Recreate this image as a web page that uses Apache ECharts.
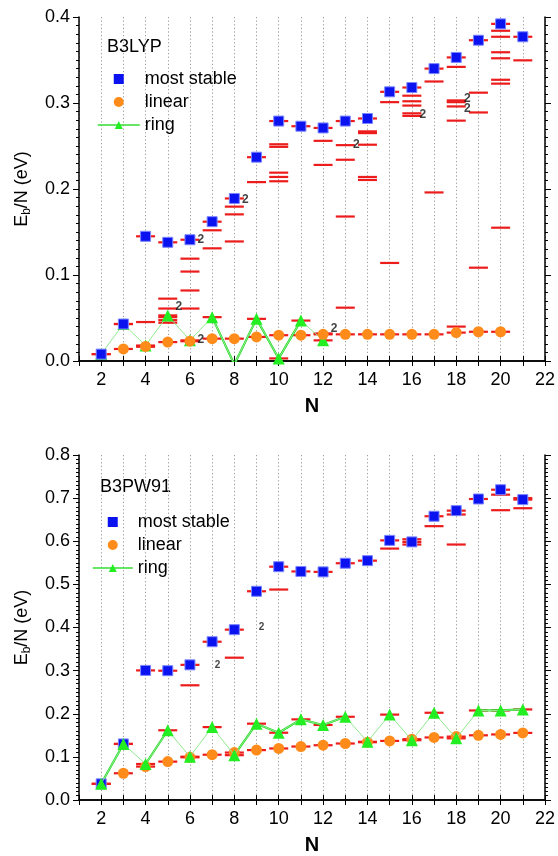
<!DOCTYPE html>
<html><head><meta charset="utf-8">
<script src="https://cdn.jsdelivr.net/npm/echarts@6/dist/echarts.min.js"></script>
<style>html,body{margin:0;padding:0;background:#fff}#c{width:558px;height:856px}</style>
</head><body><div id="c"></div>
<script>
// ---------- B3LYP (top panel) ----------
const b3lypStableN = [2,3,4,5,6,7,8,9,10,11,12,13,14,15,16,17,18,19,20,21];
const b3lypStable  = [0.008,0.043,0.145,0.138,0.141,0.162,0.189,0.237,0.279,0.273,0.271,0.279,0.282,0.313,0.318,0.340,0.353,0.373,0.392,0.377];
const b3lypLinearN = [3,4,5,6,7,8,9,10,11,12,13,14,15,16,17,18,19,20];
const b3lypLinear  = [0.014,0.017,0.022,0.023,0.026,0.026,0.028,0.030,0.030,0.031,0.031,0.031,0.031,0.031,0.031,0.033,0.034,0.034];
const b3lypRingN   = [2,3,4,5,6,7,8,9,10,11,12];
const b3lypRing    = [0.008,0.043,0.018,0.053,0.024,0.051,-0.004,0.049,0.003,0.047,0.024];
const b3lypRingBoldFrom = [7,8,9,10];
const b3lypIsomers = [
  [4,0.0453],[4,0.0167],
  [5,0.0725],[5,0.061],[5,0.051],[5,0.0475],[5,0.0445],
  [6,0.119],[6,0.104],[6,0.082],[6,0.061],
  [7,0.152],[7,0.131],
  [8,0.1795],[8,0.1705],[8,0.139],
  [9,0.208],
  [10,0.252],[10,0.249],[10,0.219],[10,0.214],[10,0.209],
  [12,0.256],[12,0.228],[12,0.032],
  [13,0.251],[13,0.234],[13,0.168],[13,0.062],
  [14,0.267],[14,0.265],[14,0.2515],[14,0.214],[14,0.2105],
  [15,0.301],[15,0.114],
  [16,0.3085],[16,0.302],[16,0.297],[16,0.288],[16,0.285],
  [17,0.325],[17,0.196],
  [18,0.342],[18,0.303],[18,0.301],[18,0.296],[18,0.2795],[18,0.040],
  [19,0.312],[19,0.289],[19,0.1085],
  [20,0.384],[20,0.377],[20,0.359],[20,0.352],[20,0.327],[20,0.3225],[20,0.155],
  [21,0.3496]
];
const b3lypDegenerate = [[5,0.0628],[6,0.1407],[6,0.0244],[8,0.188],[12,0.037],[13,0.251],[16,0.2864],[18,0.305],[18,0.2933]];

// ---------- B3PW91 (bottom panel) ----------
const b3pw91StableN = [2,3,4,5,6,7,8,9,10,11,12,13,14,15,16,17,18,19,20,21];
const b3pw91Stable  = [0.0375,0.13,0.3005,0.2998,0.3134,0.367,0.395,0.484,0.541,0.530,0.529,0.549,0.555,0.602,0.5985,0.658,0.671,0.698,0.7195,0.6966];
const b3pw91LinearN = [3,4,5,6,7,8,9,10,11,12,13,14,15,16,17,18,19,20,21];
const b3pw91Linear  = [0.062,0.0775,0.089,0.099,0.105,0.110,0.1157,0.1195,0.124,0.127,0.131,0.134,0.137,0.141,0.145,0.147,0.150,0.152,0.1556];
const b3pw91RingN   = [2,3,4,5,6,7,8,9,10,11,12,13,14,15,16,17,18,19,20,21];
const b3pw91Ring    = [0.0375,0.13,0.0835,0.1617,0.1004,0.169,0.104,0.177,0.156,0.187,0.174,0.193,0.135,0.198,0.1387,0.2023,0.143,0.2076,0.2076,0.210];
const b3pw91RingBoldFrom = [2,4,8,9,10,11,12,19,20];
const b3pw91Isomers = [
  [6,0.266],[8,0.330],[10,0.488],[15,0.583],[16,0.6046],[16,0.5924],
  [17,0.635],[18,0.662],[18,0.5924],[20,0.708],[20,0.672],[21,0.700],[21,0.6766]
];
const b3pw91Degenerate = [[7.24,0.313],[9.23,0.401]];

const xTicksMin = 1, xTicksMax = 22;
const FONT = 'Arial, "Liberation Sans", sans-serif';

const pairs = (xs, ys) => xs.map((x, i) => [x, ys[i]]);
function boldSegments(xs, ys, from) {
  const res = [];
  for (let i = 0; i < xs.length; i++) {
    const on = from.includes(xs[i]) || from.includes(xs[i] - 1);
    res.push([xs[i], on ? ys[i] : null]);
    if (i < xs.length - 1 && !from.includes(xs[i])) res.push([xs[i] + 0.5, null]);
  }
  return res;
}

const panels = [
  {name:'B3LYP', ymax:0.4, top:17, height:344, stN:b3lypStableN, st:b3lypStable, liN:b3lypLinearN, li:b3lypLinear,
   riN:b3lypRingN, ri:b3lypRing, bold:b3lypRingBoldFrom, iso:b3lypIsomers, deg:b3lypDegenerate, degOff:11, degSize:12,
   ringOnTop:false, legendTop:65, legendLeft:92, itemW:42, titleX:107, titleY:48},
  {name:'B3PW91', ymax:0.8, top:455, height:348, stN:b3pw91StableN, st:b3pw91Stable, liN:b3pw91LinearN, li:b3pw91Linear,
   riN:b3pw91RingN, ri:b3pw91Ring, bold:b3pw91RingBoldFrom, iso:b3pw91Isomers, deg:b3pw91Degenerate, degOff:0, degSize:10,
   ringOnTop:true, legendTop:508, legendLeft:87, itemW:40, titleX:100, titleY:488}
];

const option = {animation:false, backgroundColor:'#fff', textStyle:{fontFamily:FONT},
  grid:[], xAxis:[], yAxis:[], series:[], legend:[], graphic:[]};

const axisLine = {show:true, lineStyle:{color:'#000', width:1.5}};
panels.forEach((p, g) => {
  option.grid.push({left:79, width:469, top:p.top, height:p.height});
  option.xAxis.push({gridIndex:g, type:'value', min:xTicksMin, max:xTicksMax, interval:1,
    axisLine, axisTick:{length:5, lineStyle:{color:'#000'}},
    axisLabel:{fontSize:18, color:'#000', margin:10, fontFamily:FONT, formatter:v => v % 2 === 0 ? String(v) : ''},
    splitLine:{show:true, lineStyle:{type:[1.2,2.4], color:'#9a9a9a', width:1}},
    name:'N', nameLocation:'middle', nameGap:35, nameTextStyle:{fontSize:20, fontWeight:'bold', color:'#000', fontFamily:FONT}});
  option.xAxis.push({gridIndex:g, type:'value', position:'top', min:xTicksMin, max:xTicksMax, interval:1,
    axisLine, axisTick:{length:5, lineStyle:{color:'#000'}}, axisLabel:{show:false}, splitLine:{show:false}});
  option.yAxis.push({gridIndex:g, type:'value', min:0, max:p.ymax, interval:0.1,
    axisLine, axisTick:{length:6, lineStyle:{color:'#000'}},
    minorTick:{show:true, splitNumber:10, length:3, lineStyle:{color:'#000'}},
    axisLabel:{fontSize:18, color:'#000', margin:9, fontFamily:FONT, formatter:v => v.toFixed(1)},
    splitLine:{show:false},
    name:'{e|E}{s|b}{e|/N (eV)}', nameLocation:'middle', nameGap:46, nameRotate:90,
    nameTextStyle:{color:'#000', rich:{e:{fontSize:18, fontFamily:FONT, color:'#000'}, s:{fontSize:12, fontFamily:FONT, color:'#000', padding:[9,0,0,0]}}}});
  option.yAxis.push({gridIndex:g, type:'value', position:'right', min:0, max:p.ymax, interval:0.1,
    axisLine, axisTick:{length:6, lineStyle:{color:'#000'}},
    minorTick:{show:true, splitNumber:10, length:3, lineStyle:{color:'#000'}},
    axisLabel:{show:false}, splitLine:{show:false}});

  const xi = 2*g, yi = 2*g;
  const st = pairs(p.stN, p.st), li = pairs(p.liN, p.li), ri = pairs(p.riN, p.ri);
  const dashes = [].concat(st, li, ri, p.iso);
  option.series.push({type:'scatter', xAxisIndex:xi, yAxisIndex:yi, z:2, symbol:'rect', symbolSize:[19,2.2],
    itemStyle:{color:'#ec1c1c', opacity:1}, data:dashes, silent:true});
  option.series.push({type:'line', xAxisIndex:xi, yAxisIndex:yi, z:3, symbol:'none', clip:true,
    lineStyle:{color:'#22dd22', width:2.2}, data:boldSegments(p.riN, p.ri, p.bold), connectNulls:false});
  option.series.push({type:'line', name:'ring', xAxisIndex:xi, yAxisIndex:yi, z:p.ringOnTop ? 6 : 4, clip:true,
    symbol:'triangle', symbolSize:12, itemStyle:{color:'#22ee22'}, lineStyle:{color:'#8fea8f', width:1}, data:ri});
  option.series.push({type:'scatter', name:'linear', xAxisIndex:xi, yAxisIndex:yi, z:5,
    symbol:'circle', symbolSize:11, itemStyle:{color:'#ff8c1a', opacity:1}, data:li});
  option.series.push({type:'scatter', name:'most stable', xAxisIndex:xi, yAxisIndex:yi, z:p.ringOnTop ? 5 : 7,
    symbol:'rect', symbolSize:10, itemStyle:{color:'#0b12f0', borderColor:'#7b86ff', borderWidth:1, opacity:1}, data:st});
  option.series.push({type:'scatter', xAxisIndex:xi, yAxisIndex:yi, z:8, symbolSize:0, silent:true, data:p.deg,
    label:{show:true, position:'inside', offset:[p.degOff,0], formatter:'2', fontSize:p.degSize, fontWeight:'bold', color:'#111', fontFamily:FONT}});

  option.legend.push({orient:'vertical', left:p.legendLeft, top:p.legendTop, itemWidth:p.itemW, itemHeight:10, itemGap:5,
    textStyle:{fontSize:18, color:'#000', fontFamily:FONT}, selectedMode:false, symbolKeepAspect:true,
    data:[{name:'most stable', icon:'path://M0,0L10,0L10,10L0,10Z', itemStyle:{borderWidth:0}}, {name:'linear', icon:'circle'},
          {name:'ring', lineStyle:{color:'#33dd33', width:1.5}}]});
  option.graphic.push({type:'text', left:p.titleX, top:p.titleY - 10, style:{text:p.name, font:'18px ' + FONT, fill:'#000'}});
});

const chart = echarts.init(document.getElementById('c'), null, {renderer:'canvas'});
chart.setOption(option);
</script></body></html>
